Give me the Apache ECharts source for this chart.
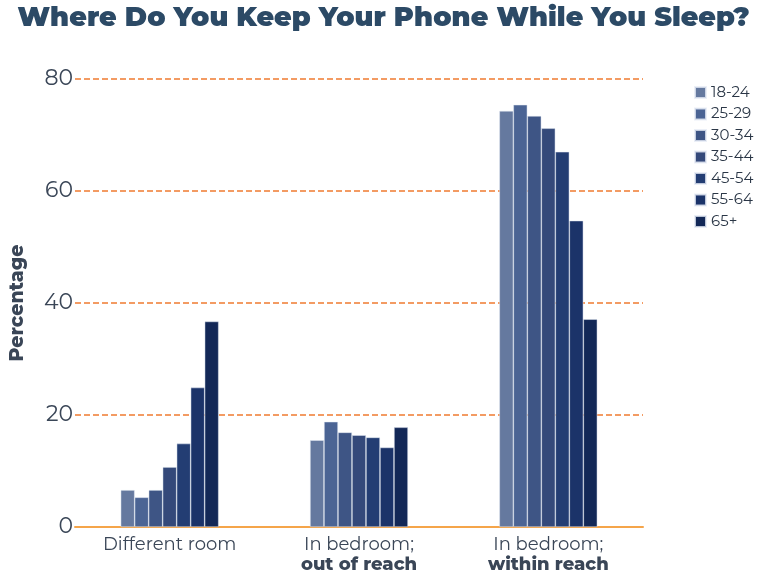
<!DOCTYPE html>
<html>
<head>
<meta charset="utf-8">
<script src="https://cdn.jsdelivr.net/npm/echarts@6/dist/echarts.min.js"></script>
<style>
  html, body { margin: 0; padding: 0; background: #fff; }
  #chart { width: 767px; height: 581px; }
</style>
</head>
<body>
<div id="chart"></div>
<script>
var categories = ["Different room", "In bedroom;\n{b|out of reach}", "In bedroom;\n{b|within reach}"];
var ageGroups = ["18-24", "25-29", "30-34", "35-44", "45-54", "55-64", "65+"];
// one array per age group: [different room, out of reach, within reach]
var age1824 = [6.6, 15.5, 74.3];
var age2529 = [5.3, 18.8, 75.4];
var age3034 = [6.6, 16.9, 73.4];
var age3544 = [10.7, 16.4, 71.2];
var age4554 = [14.9, 16.0, 67.0];
var age5564 = [24.9, 14.2, 54.7];
var age65 = [36.7, 17.8, 37.1];
var yTicks = [0, 20, 40, 60, 80];

var seriesValues = [age1824, age2529, age3034, age3544, age4554, age5564, age65];
var colors = ["#65799f", "#4b6494", "#3e5585", "#34497a", "#233d73", "#1b3369", "#132857"];

var chart = echarts.init(document.getElementById("chart"));
var font = "Montserrat, 'Open Sans', sans-serif";

var series = ageGroups.map(function (name, i) {
    return {
        name: name,
        type: "bar",
        data: seriesValues[i],
        barWidth: 14,
        barGap: "0%",
        itemStyle: {
            color: colors[i],
            borderColor: "rgba(230,235,245,0.8)",
            borderWidth: 0.6
        }
    };
});

var option = {
    animation: false,
    color: colors,
    title: {
        text: "Where Do You Keep Your Phone While You Sleep?",
        left: "center",
        top: 0,
        textStyle: {
            fontFamily: font,
            fontWeight: 900,
            fontSize: 27,
            color: "#2c4a66"
        }
    },
    legend: {
        orient: "vertical",
        left: 689,
        top: 80,
        itemWidth: 11,
        itemHeight: 11,
        itemGap: 6.5,
        icon: "rect",
        data: ageGroups,
        textStyle: { fontFamily: font, fontSize: 15, color: "#2a3646" }
    },
    grid: { left: 70, right: 124, top: 79, bottom: 54 },
    xAxis: {
        type: "category",
        data: categories,
        axisLine: { lineStyle: { color: "#f5a54a", width: 2 } },
        axisTick: { show: false },
        axisLabel: {
            fontFamily: font,
            fontSize: 18,
            color: "#3a4657",
            lineHeight: 20,
            margin: 8,
            rich: {
                b: { fontFamily: font, fontSize: 18, fontWeight: 800, color: "#3a4657", lineHeight: 20 }
            }
        }
    },
    yAxis: {
        type: "value",
        min: yTicks[0],
        max: yTicks[yTicks.length - 1],
        interval: 20,
        name: "Percentage",
        nameLocation: "middle",
        nameGap: 48,
        nameTextStyle: { fontFamily: font, fontWeight: 800, fontSize: 19, color: "#3a4657" },
        axisLine: { show: false },
        axisTick: { show: false },
        axisLabel: { fontFamily: font, fontSize: 22, color: "#3a4657", margin: 2 },
        splitLine: { show: true, lineStyle: { color: "#f07b30", type: "dashed", width: 1.5 } }
    },
    series: series
};
chart.setOption(option);
</script>
</body>
</html>
